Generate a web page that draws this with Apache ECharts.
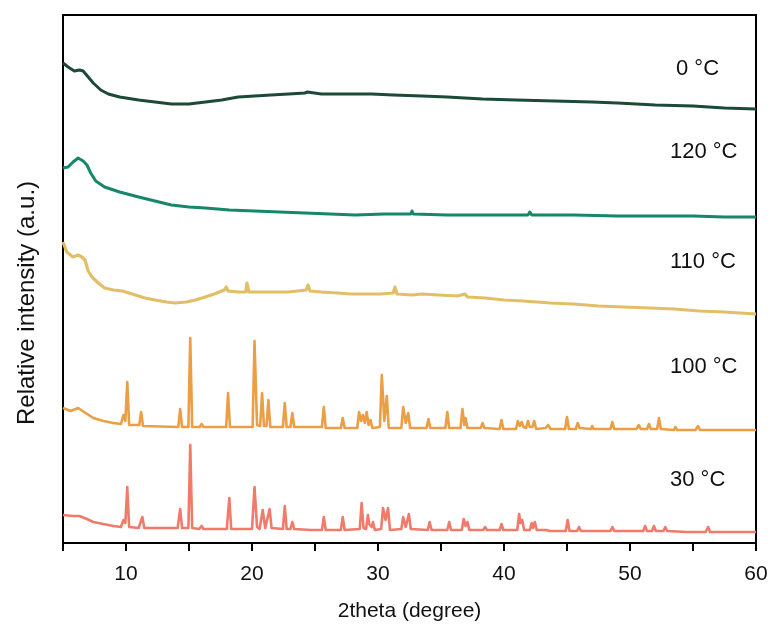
<!DOCTYPE html>
<html>
<head>
<meta charset="utf-8">
<script src="https://cdn.jsdelivr.net/npm/echarts@6/dist/echarts.min.js"></script>
<style>
html,body{margin:0;padding:0;background:#fff;}
#chart{width:776px;height:635px;}
</style>
</head>
<body>
<div id="chart"></div>
<script>
// x: 2theta (degree), y: relative intensity (stacked, arbitrary units)
var seriesNames = ['0 °C', '120 °C', '110 °C', '100 °C', '30 °C'];
var xTicks = [10, 20, 30, 40, 50, 60];

var data0C = [[5,480],[5.4,476],[5.9,472],[6.3,473],[6.6,472],[7.0,466],[7.4,460],[8.0,453],[8.6,449],[9.5,446],[11.0,443],[12.3,441],[13.6,439],[15.0,439],[16.3,441],[17.6,443],[18.9,446],[20.2,447],[21.5,448],[22.9,449],[24.2,450],[24.4,451],[25.5,449],[26.8,449],[28.2,449],[29.5,449],[31.2,448],[33.5,447],[35.5,446],[38.3,444],[41.0,443],[44.0,442],[47.0,441],[49.0,440],[52.0,438],[55.0,437],[57.5,435],[60,434]];

var data120C = [[5,375],[5.4,376],[5.8,381],[6.2,385],[6.6,382],[6.9,378],[7.2,370],[7.6,362],[8.3,356],[9.5,351],[11.0,346],[12.3,342],[13.6,338],[15.0,336],[16.3,335],[18.2,333],[20.2,332],[22.2,331],[24.2,330],[26.2,329],[28.2,328],[30.5,329],[32.6,329],[32.7,332],[32.8,329],[35.5,328],[38.5,328],[41.9,328],[42.05,331],[42.2,328],[45.5,328],[49.0,327],[52.0,327],[55.0,327],[57.5,326],[60,326]];

var data110C = [[5,301],[5.3,291],[5.8,286],[6.2,288],[6.5,286],[6.75,283],[7.0,272],[7.3,266],[7.8,260],[8.3,255],[9.0,253],[9.7,252],[10.5,249],[11.5,245],[12.3,243],[13.2,241],[13.9,240],[14.8,241],[15.5,243],[16.3,246],[17.0,249],[17.8,253],[17.95,256],[18.1,252],[18.9,251],[19.5,251],[19.6,260],[19.75,251],[20.5,251],[21.5,251],[22.3,251],[22.9,251],[23.6,252],[24.3,253],[24.45,258],[24.6,252],[25.5,251],[26.8,250],[27.8,249],[29.0,249],[30.2,249],[31.2,250],[31.35,256],[31.5,249],[32.7,248],[33.5,249],[34.8,248],[36.3,247],[36.9,249],[37.1,246],[38.5,245],[40.0,243],[41.5,242],[43.7,240],[45.5,239],[47.5,237],[49.5,236],[51.6,235],[53.5,234],[55.5,232],[57.5,231],[60,229]];

var data100C = [[5,135],[5.6,132],[6.2,135],[6.8,130],[7.4,125],[8.2,122],[9.0,120],[9.6,119],[9.8,128],[9.95,122],[10.1,161],[10.25,118],[11.05,118],[11.2,131],[11.35,117],[14.15,116],[14.3,134],[14.45,116],[14.95,116],[15.1,205],[15.25,116],[15.85,116],[16.0,119],[16.15,116],[17.95,116],[18.1,150],[18.25,116],[20.05,116],[20.2,202],[20.4,118],[20.65,117],[20.8,150],[20.95,117],[21.15,117],[21.3,143],[21.45,116],[22.45,116],[22.6,140],[22.75,116],[23.05,116],[23.2,130],[23.35,116],[24.7,116],[24.8,118],[24.9,116],[25.55,116],[25.7,136],[25.85,115],[27.05,115],[27.2,125],[27.35,115],[28.35,115],[28.5,131],[28.65,122],[28.8,128],[28.95,120],[29.1,131],[29.25,118],[29.4,123],[29.55,115],[30.15,116],[30.3,168],[30.5,122],[30.7,147],[30.85,115],[31.85,115],[32.0,136],[32.2,120],[32.4,130],[32.55,115],[33.85,115],[34.0,124],[34.15,115],[35.35,115],[35.5,131],[35.65,115],[36.55,115],[36.7,134],[36.85,118],[36.95,125],[37.1,115],[38.15,115],[38.3,120],[38.45,115],[39.65,114],[39.8,123],[39.95,114],[40.95,114],[41.1,122],[41.25,117],[41.4,121],[41.55,116],[41.75,115],[41.9,122],[42.05,116],[42.25,116],[42.4,122],[42.55,114],[43.3,115],[43.5,118],[43.7,114],[44.85,114],[45.0,126],[45.15,114],[45.7,114],[45.85,120],[46.0,115],[46.9,114],[47.0,117],[47.1,114],[48.45,114],[48.6,121],[48.75,114],[49.5,114],[50.5,114],[50.7,118],[50.85,114],[51.35,114],[51.5,119],[51.65,114],[52.15,114],[52.3,125],[52.45,114],[53.5,113],[53.6,116],[53.75,113],[55.2,113],[55.4,117],[55.55,113],[56.5,113],[56.6,115],[56.75,113],[57.7,113],[57.8,115],[57.95,113],[59.3,113],[59.4,115],[59.55,113],[60,113]];

var data30C = [[5,28],[5.8,27],[6.3,27],[6.9,24],[7.4,21],[8.2,19],[9.0,17],[9.6,16],[9.8,23],[9.95,20],[10.1,56],[10.25,16],[11.0,15],[11.3,26],[11.45,15],[14.1,15],[14.3,34],[14.45,15],[14.95,15],[15.1,98],[15.25,15],[15.8,14],[16.0,17],[16.15,14],[18.0,14],[18.2,45],[18.35,14],[20.0,14],[20.2,56],[20.4,16],[20.6,14],[20.85,33],[21.05,15],[21.2,15],[21.4,34],[21.55,15],[22.45,14],[22.6,37],[22.75,14],[23.05,14],[23.2,21],[23.35,14],[24.7,13],[24.8,15],[24.9,13],[25.55,13],[25.7,26],[25.85,13],[27.05,13],[27.2,26],[27.35,13],[28.55,14],[28.7,40],[28.85,15],[29.05,14],[29.2,28],[29.3,19],[29.4,21],[29.5,16],[29.6,21],[29.75,13],[30.25,14],[30.4,35],[30.6,23],[30.8,35],[30.95,13],[31.85,14],[32.0,26],[32.2,16],[32.45,29],[32.6,14],[33.95,13],[34.1,21],[34.25,13],[35.5,13],[35.65,21],[35.8,13],[36.65,13],[36.8,24],[36.95,17],[37.1,21],[37.25,13],[38.35,13],[38.5,16],[38.65,13],[39.65,13],[39.8,19],[39.95,13],[41.05,13],[41.2,29],[41.3,20],[41.45,23],[41.6,13],[42.05,13],[42.2,20],[42.3,15],[42.45,21],[42.6,13],[43.35,13],[43.5,15],[43.65,12],[44.9,12],[45.05,23],[45.2,12],[45.8,12],[45.95,16],[46.1,12],[46.9,12],[47.0,14],[47.1,12],[48.45,12],[48.6,16],[48.75,12],[50.0,12],[51.05,12],[51.2,17],[51.35,12],[51.75,12],[51.9,17],[52.05,12],[52.65,12],[52.8,16],[52.95,12],[54.5,11],[56.0,11],[56.2,16],[56.35,11],[57.5,11],[60,11]];

var seriesData = [data0C, data120C, data110C, data100C, data30C];
var seriesColors = ['#1d4a36', '#15876b', '#e2bf67', '#ec9e44', '#f07b6b'];
var lineWidths = [3, 3, 3.2, 2.6, 2.6];
var labelPos = [[676, 70], [670, 153], [670, 263], [670, 368], [670, 481]];

var FONT = '"Liberation Sans", Arial, Helvetica, sans-serif';
var chart = echarts.init(document.getElementById('chart'), null, {renderer: 'canvas'});

var series = seriesNames.map(function (n, i) {
  return {
    name: n,
    type: 'line',
    data: seriesData[i],
    showSymbol: false,
    symbol: 'none',
    smooth: false,
    lineStyle: {color: seriesColors[i], width: lineWidths[i], join: 'round'},
    animation: false
  };
});

var graphics = seriesNames.map(function (n, i) {
  return {
    type: 'text',
    left: labelPos[i][0],
    top: labelPos[i][1] - 12,
    style: {text: n, fontSize: 22, fontFamily: FONT, fill: '#111'}
  };
});
graphics.push({
  type: 'text',
  x: 27, y: 303,
  rotation: Math.PI / 2,
  style: {text: 'Relative intensity (a.u.)', fontSize: 24, fontFamily: FONT, fill: '#111', textAlign: 'center', textVerticalAlign: 'middle'}
});

chart.setOption({
  animation: false,
  backgroundColor: '#fff',
  grid: {left: 63, right: 20, top: 15, bottom: 92, show: true, borderColor: '#000', borderWidth: 2, backgroundColor: 'transparent'},
  xAxis: {
    type: 'value', min: 5, max: 60, interval: 5,
    name: '2theta (degree)', nameLocation: 'middle', nameGap: 58,
    nameTextStyle: {fontSize: 21, fontFamily: FONT, color: '#111'},
    axisLine: {show: true, lineStyle: {color: '#000', width: 2}},
    axisTick: {show: true, inside: false, length: 8, lineStyle: {color: '#000', width: 2}},
    axisLabel: {
      margin: 21, fontSize: 21, fontFamily: FONT, color: '#111',
      formatter: function (v) { return xTicks.indexOf(v) >= 0 ? String(v) : ''; }
    },
    splitLine: {show: false}
  },
  yAxis: {
    type: 'value', min: 0, max: 528,
    axisLine: {show: true, lineStyle: {color: '#000', width: 2}},
    axisTick: {show: false},
    axisLabel: {show: false},
    splitLine: {show: false}
  },
  series: series,
  graphic: graphics
});
</script>
</body>
</html>
